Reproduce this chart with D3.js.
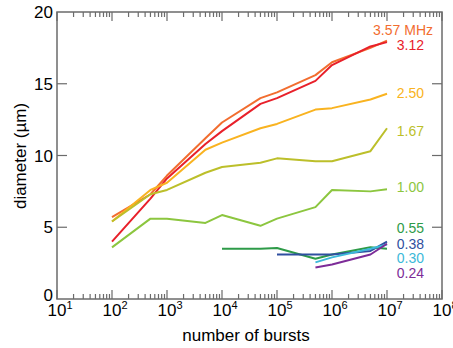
<!DOCTYPE html>
<html>
<head>
<meta charset="utf-8">
<script src="https://cdn.jsdelivr.net/npm/d3@7"></script>
<style>
  body { margin: 0; background: #fff; }
  text { font-family: "Liberation Sans", Arial, sans-serif; }
</style>
</head>
<body>
<svg id="chart"></svg>
<script>
// burst counts where measurements were taken
const bursts = [1e2, 5e2, 1e3, 5e3, 1e4, 5e4, 1e5, 5e5, 1e6, 5e6, 1e7];

// diameter (um) per frequency, null = no measurement
const d357 = [5.7, 7.3, 8.6, 11.2, 12.3, 14.0, 14.4, 15.6, 16.5, 17.5, 18.0];
const d312 = [4.0, 7.0, 8.4, 10.8, 11.7, 13.6, 14.0, 15.2, 16.3, 17.6, 17.9];
const d250 = [5.4, 7.6, 8.1, 10.4, 10.9, 11.9, 12.2, 13.2, 13.3, 13.9, 14.3];
const d167 = [5.4, 7.3, 7.6, 8.8, 9.2, 9.5, 9.8, 9.6, 9.6, 10.3, 11.9];
const d100 = [3.6, 5.6, 5.6, 5.3, 5.85, 5.1, 5.6, 6.4, 7.6, 7.5, 7.65];
const d055 = [null, null, null, null, 3.5, 3.5, 3.55, 2.8, 3.1, 3.6, 3.5];
const d038 = [null, null, null, null, null, null, 3.1, 3.1, 3.1, 3.35, 4.0];
const d030 = [null, null, null, null, null, null, null, 2.55, 2.9, 3.5, 3.8];
const d024 = [null, null, null, null, null, null, null, 2.2, 2.4, 3.1, 3.85];

const freqLabels = ['3.57 MHz', '3.12', '2.50', '1.67', '1.00', '0.55', '0.38', '0.30', '0.24'];
const labelAt = [18.75, 17.7, 14.35, 11.7, 7.8, 4.9, 3.85, 2.85, 1.8];
const colors = ['#f26d2f', '#e8202a', '#f9b320', '#bcbf2a', '#8cc63f', '#2e9b48', '#2f4fa0', '#3cb9d9', '#7d2c98'];

const yTicks = [0, 5, 10, 15, 20];
const xDecades = [1, 2, 3, 4, 5, 6, 7, 8];

const series = [d357, d312, d250, d167, d100, d055, d038, d030, d024];

const width = 453, height = 348;
const margin = { top: 12, right: 11, bottom: 49, left: 57 };
const innerW = width - margin.left - margin.right;
const innerH = height - margin.top - margin.bottom;

const svg = d3.select('#chart')
  .attr('width', width)
  .attr('height', height);

const g = svg.append('g')
  .attr('transform', `translate(${margin.left},${margin.top})`);

const x = d3.scaleLog().domain([10, 1e8]).range([0, innerW]);
const y = d3.scaleLinear().domain([0, 20]).range([innerH, 0]);

const axisColor = '#6b6b6b';

// frame
g.append('rect')
  .attr('width', innerW)
  .attr('height', innerH)
  .attr('fill', 'none')
  .attr('stroke', axisColor)
  .attr('stroke-width', 1.5);

// x ticks (minor + major) pointing inward, top and bottom
const minor = [];
for (let e = 1; e < 8; e++) {
  for (let m = 2; m <= 9; m++) minor.push(m * Math.pow(10, e));
}
const major = xDecades.map(e => Math.pow(10, e));

[[innerH, -1], [0, 1]].forEach(([y0, dir]) => {
  g.selectAll(null).data(minor).enter().append('line')
    .attr('x1', d => x(d)).attr('x2', d => x(d))
    .attr('y1', y0).attr('y2', y0 + dir * 5)
    .attr('stroke', axisColor).attr('stroke-width', 1.2);
  g.selectAll(null).data(major).enter().append('line')
    .attr('x1', d => x(d)).attr('x2', d => x(d))
    .attr('y1', y0).attr('y2', y0 + dir * 9)
    .attr('stroke', axisColor).attr('stroke-width', 1.2);
});

// y ticks inward, left and right
[[0, 1], [innerW, -1]].forEach(([x0, dir]) => {
  g.selectAll(null).data(yTicks.slice(1, -1)).enter().append('line')
    .attr('y1', d => y(d)).attr('y2', d => y(d))
    .attr('x1', x0).attr('x2', x0 + dir * 10)
    .attr('stroke', axisColor).attr('stroke-width', 1.2);
});

// y tick labels
g.selectAll('.ylab').data(yTicks).enter().append('text')
  .attr('x', -4)
  .attr('y', d => y(d) - (d === 0 ? 4 : 0))
  .attr('dy', '0.36em')
  .attr('text-anchor', 'end')
  .style('font-size', '17px')
  .text(d => d);

// x tick labels 10^n
const xl = g.selectAll('.xlab').data(xDecades).enter().append('text')
  .attr('x', d => x(Math.pow(10, d)) + 3)
  .attr('y', innerH + 17)
  .attr('text-anchor', 'middle')
  .style('font-size', '17px');
xl.append('tspan').text('10');
xl.append('tspan').attr('dy', -7).style('font-size', '11px').text(d => d);

// axis titles
svg.append('text')
  .attr('x', 246)
  .attr('y', 341)
  .attr('text-anchor', 'middle')
  .style('font-size', '17px')
  .text('number of bursts');

svg.append('text')
  .attr('transform', `translate(26,156) rotate(-90)`)
  .attr('text-anchor', 'middle')
  .style('font-size', '17px')
  .text('diameter (µm)');

// lines
const line = d3.line()
  .defined(d => d[1] !== null)
  .x(d => x(d[0]))
  .y(d => y(d[1]));

g.selectAll('.series').data(series).enter().append('path')
  .attr('d', s => line(s.map((v, i) => [bursts[i], v])))
  .attr('fill', 'none')
  .attr('stroke', (s, i) => colors[i])
  .attr('stroke-width', 2)
  .attr('stroke-linejoin', 'round');

// frequency labels
g.selectAll('.flab').data(freqLabels).enter().append('text')
  .attr('x', (d, i) => i === 0 ? 376 : 367)
  .attr('y', (d, i) => y(labelAt[i]))
  .attr('dy', '0.34em')
  .attr('text-anchor', 'end')
  .style('font-size', '14px')
  .attr('fill', (d, i) => colors[i])
  .text(d => d);
</script>
</body>
</html>
